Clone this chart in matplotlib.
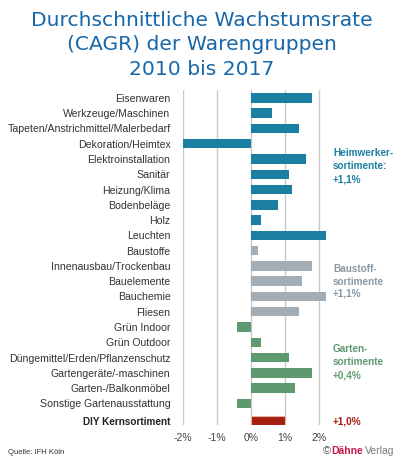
import matplotlib
matplotlib.use("Agg")
import matplotlib.pyplot as plt
import numpy as np

categories = [
    "Eisenwaren", "Werkzeuge/Maschinen", "Tapeten/Anstrichmittel/Malerbedarf",
    "Dekoration/Heimtex", "Elektroinstallation", "Sanitär", "Heizung/Klima",
    "Bodenbeläge", "Holz", "Leuchten",
    "Baustoffe", "Innenausbau/Trockenbau", "Bauelemente", "Bauchemie", "Fliesen",
    "Grün Indoor", "Grün Outdoor", "Düngemittel/Erden/Pflanzenschutz",
    "Gartengeräte/-maschinen", "Garten-/Balkonmöbel", "Sonstige Gartenausstattung",
    "DIY Kernsortiment",
]
values = [1.8, 0.6, 1.4, -2.0, 1.6, 1.1, 1.2, 0.8, 0.3, 2.2,
          0.2, 1.8, 1.5, 2.2, 1.4,
          -0.4, 0.3, 1.1, 1.8, 1.3, -0.4,
          1.0]
groups = ["heim"] * 10 + ["bau"] * 5 + ["garten"] * 6 + ["diy"]
xticks = [-2, -1, 0, 1, 2]
xtick_labels = ["-2%", "-1%", "0%", "1%", "2%"]

colors = {"heim": "#1b7fa1", "bau": "#a2adb6", "garten": "#5e9a70", "diy": "#a51d0c"}
title_color = "#1767a9"

W, H = 404, 465
plt.rcParams["font.family"] = ["Liberation Sans", "DejaVu Sans"]
fig = plt.figure(figsize=(W / 100, H / 100), dpi=100)

def fx(px):
    return px / W

def fy(py):
    return 1 - py / H

ax = fig.add_axes([fx(183), fy(425), 143 / W, 335 / H])

ypos = np.arange(len(categories), dtype=float)
ypos[-1] = 21.14
bar_colors = [colors[g] for g in groups]
edge = ["none"] * (len(values) - 1) + ["#e8b0a8"]
ax.barh(ypos, values, height=0.62, color=bar_colors, edgecolor=edge, linewidth=0.8, zorder=3)

ax.set_xlim(-2, 2.2)
ax.set_ylim(21.42, -0.52)
ax.set_xticks(xticks)
ax.set_xticklabels(xtick_labels, fontsize=7.5, color="#444444")
ax.set_yticks(ypos)
ax.set_yticklabels(categories, fontsize=7.6, color="#333333")
ax.get_yticklabels()[-1].set_fontweight("bold")
ax.get_yticklabels()[-1].set_fontsize(7.2)
ax.get_yticklabels()[-1].set_color("#222222")
ax.tick_params(length=0, axis="y", pad=9)
ax.tick_params(length=0, axis="x", pad=6)
for s in ax.spines.values():
    s.set_visible(False)
for x in xticks:
    ax.axvline(x, color="#c9c9c9", lw=1, zorder=1)

for t, y in zip(["Durchschnittliche Wachstumsrate", "(CAGR) der Warengruppen", "2010 bis 2017"],
                [20, 45, 69]):
    fig.text(0.5, fy(y), t, ha="center", va="center", fontsize=14.6,
             color=title_color, family="DejaVu Sans")

def block(lines, ys, color):
    for t, y in zip(lines, ys):
        fig.text(fx(333), fy(y), t, ha="left", va="center", fontsize=7.2,
                 fontweight="bold", color=color)

block(["Heimwerker-", "sortimente:", "+1,1%"], [153, 166, 179], colors["heim"])
block(["Baustoff-", "sortimente", "+1,1%"], [269, 282, 294], "#8a98a4")
block(["Garten-", "sortimente", "+0,4%"], [349, 362, 375], colors["garten"])
block(["+1,0%"], [422], colors["diy"])

fig.text(fx(8), fy(452), "Quelle: IFH Köln", ha="left", va="center", fontsize=5.5,
         color="#333333")

fig.canvas.draw()
r = fig.canvas.get_renderer()
t1 = fig.text(fx(394), fy(451), "Verlag", ha="right", va="center", fontsize=7.5,
              color="#7a7a7a")
bb = t1.get_window_extent(r)
t2 = fig.text(bb.x0 / W - fx(1), fy(451), "Dähne", ha="right", va="center", fontsize=7.5,
              color="#c8174a", fontweight="bold")
bb2 = t2.get_window_extent(r)
fig.text(bb2.x0 / W - fx(1), fy(451), "©", ha="right", va="center", fontsize=8,
         color="#555555")

fig.savefig("out.png", dpi=100)
